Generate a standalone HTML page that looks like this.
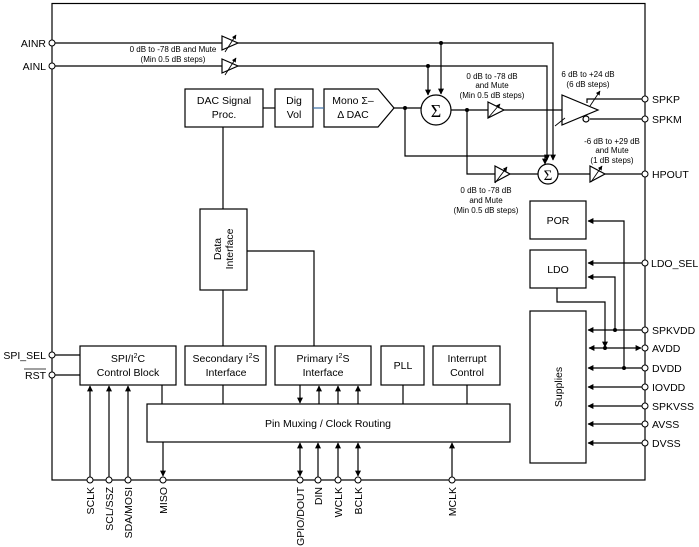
<!DOCTYPE html>
<html><head><meta charset="utf-8"><style>
html,body{margin:0;padding:0;background:#fff;}
svg{display:block;font-family:"Liberation Sans",Arial,sans-serif;}
</style></head><body>
<svg width="699" height="547" viewBox="0 0 699 547" xmlns="http://www.w3.org/2000/svg">
<defs>
<marker id="a" viewBox="0 0 10 10" refX="9" refY="5" markerWidth="5" markerHeight="5" orient="auto-start-reverse"><path d="M0,0L10,5L0,10z" fill="#000"/></marker>
</defs>
<g fill="none" stroke="#000" stroke-width="1.2">
<rect x="52" y="3.5" width="593" height="476.5"/>
<path d="M55 43H222"/><path d="M238 43H553V160" marker-end="url(#a)"/>
<path d="M55 66H222"/><path d="M238 66H547V160" marker-end="url(#a)"/>
<path d="M222 36L238 43L222 50Z"/><path d="M222 59L238 66L222 73Z"/>
<path d="M225 52L236 35" marker-end="url(#a)" stroke-width="0.9"/>
<path d="M225 75L236 58" marker-end="url(#a)" stroke-width="0.9"/>
<rect x="185" y="89" width="78" height="38"/>
<rect x="275" y="89" width="38" height="38"/>
<path d="M324 89H378L394 108L378 127H324Z"/>
<path d="M263 108H275"/>
<path d="M313 108H324" stroke="#3a6ea5"/>
<path d="M394 108H421"/>
<circle cx="436" cy="110" r="15"/>
<path d="M441 43V94" marker-end="url(#a)"/>
<path d="M428 66V95" marker-end="url(#a)"/>
<path d="M451 110H488M504 110H562"/>
<path d="M488 102L504 110L488 118Z"/>
<path d="M405 108V156H545V164" marker-end="url(#a)"/>
<path d="M467 110V174H495M510 174H538"/>
<path d="M495 166L510 174L495 182Z"/>
<circle cx="548" cy="174" r="10"/>
<path d="M558 174H590M605 174H642"/>
<path d="M590 166L605 174L590 182Z"/>
<path d="M562 95V125L598 110Z"/>
<path d="M587 103V99H642M590 119H642"/>
<circle cx="586" cy="119" r="3"/>
<path d="M590 106L600 91" marker-end="url(#a)" stroke-width="0.9"/>
<path d="M488 118L500 104" marker-end="url(#a)" stroke-width="0.9"/>
<path d="M495 183L507 167" marker-end="url(#a)" stroke-width="0.9"/>
<path d="M591 182L602 166" marker-end="url(#a)" stroke-width="0.9"/>
<path d="M555 126L565 118" stroke-width="0.9"/>
<rect x="200" y="209" width="47" height="81"/>
<path d="M223 127V209M223 290V346M247 251H314V346"/>
<rect x="80" y="346" width="96" height="39"/>
<rect x="185" y="346" width="81" height="39"/>
<rect x="275" y="346" width="96" height="39"/>
<rect x="381" y="346" width="43" height="39"/>
<rect x="433" y="346" width="67" height="39"/>
<rect x="147" y="404" width="363" height="38"/>
<path d="M55 355H80M55 375H80"/>
<path d="M162 385V404M223 385V404M403 385V404M467 385V404"/>
<path d="M300 385V403" marker-end="url(#a)"/>
<path d="M319 404V386" marker-end="url(#a)"/>
<path d="M338 404V386" marker-end="url(#a)"/>
<path d="M358 404V386" marker-end="url(#a)"/>
<path d="M90 477V386" marker-end="url(#a)"/>
<path d="M109 477V386" marker-end="url(#a)"/>
<path d="M128 477V386" marker-end="url(#a)"/>
<path d="M163 442V476" marker-end="url(#a)"/>
<path d="M300 476V443" marker-start="url(#a)" marker-end="url(#a)"/>
<path d="M358 476V443" marker-start="url(#a)" marker-end="url(#a)"/>
<path d="M318 477V443" marker-end="url(#a)"/>
<path d="M338 477V443" marker-end="url(#a)"/>
<path d="M452 477V443" marker-end="url(#a)"/>
<rect x="530" y="201" width="56" height="38"/>
<rect x="530" y="250" width="56" height="38"/>
<rect x="530" y="311" width="56" height="152"/>
<path d="M624 368V221H588" marker-end="url(#a)"/>
<path d="M642 263H588" marker-end="url(#a)"/>
<path d="M615 330V277H588" marker-end="url(#a)"/>
<path d="M557 288V302H605V347" marker-end="url(#a)"/>
<path d="M642 330H588" marker-end="url(#a)"/>
<path d="M642 368H588" marker-end="url(#a)"/>
<path d="M642 387H588" marker-end="url(#a)"/>
<path d="M642 406H588" marker-end="url(#a)"/>
<path d="M642 424H588" marker-end="url(#a)"/>
<path d="M642 443H588" marker-end="url(#a)"/>
<path d="M589 348H641" marker-start="url(#a)" marker-end="url(#a)"/>
</g>
<g fill="#000">
<circle cx="441" cy="43" r="2"/><circle cx="428" cy="66" r="2"/><circle cx="405" cy="108" r="2"/><circle cx="467" cy="110" r="2"/>
<circle cx="615" cy="330" r="2"/><circle cx="605" cy="348" r="2"/><circle cx="624" cy="368" r="2"/>
</g>
<g fill="#fff" stroke="#000" stroke-width="1">
<circle cx="52" cy="43" r="3"/><circle cx="52" cy="66" r="3"/><circle cx="52" cy="355" r="3"/><circle cx="52" cy="375" r="3"/>
<circle cx="645" cy="99" r="3"/><circle cx="645" cy="119" r="3"/><circle cx="645" cy="174" r="3"/><circle cx="645" cy="263" r="3"/>
<circle cx="645" cy="330" r="3"/><circle cx="645" cy="348" r="3"/><circle cx="645" cy="368" r="3"/><circle cx="645" cy="387" r="3"/>
<circle cx="645" cy="406" r="3"/><circle cx="645" cy="424" r="3"/><circle cx="645" cy="443" r="3"/>
<circle cx="90" cy="480" r="3"/><circle cx="109" cy="480" r="3"/><circle cx="128" cy="480" r="3"/><circle cx="163" cy="480" r="3"/>
<circle cx="300" cy="480" r="3"/><circle cx="318" cy="480" r="3"/><circle cx="338" cy="480" r="3"/><circle cx="358" cy="480" r="3"/><circle cx="452" cy="480" r="3"/>
</g>
<g font-size="10.5" fill="#000" text-anchor="middle">
<text x="224" y="104">DAC Signal</text><text x="224" y="118">Proc.</text>
<text x="294" y="104">Dig</text><text x="294" y="118">Vol</text>
<text x="353" y="104">Mono Σ–</text><text x="353" y="118">Δ DAC</text>
<text x="128" y="362">SPI/I<tspan font-size="7" dy="-4">2</tspan><tspan dy="4">C</tspan></text><text x="128" y="376">Control Block</text>
<text x="226" y="362">Secondary I<tspan font-size="7" dy="-4">2</tspan><tspan dy="4">S</tspan></text><text x="226" y="376">Interface</text>
<text x="323" y="362">Primary I<tspan font-size="7" dy="-4">2</tspan><tspan dy="4">S</tspan></text><text x="323" y="376">Interface</text>
<text x="403" y="369">PLL</text>
<text x="467" y="362">Interrupt</text><text x="467" y="376">Control</text>
<text x="328" y="427">Pin Muxing / Clock Routing</text>
<text x="558" y="224">POR</text><text x="558" y="273">LDO</text>
<text transform="translate(562,387) rotate(-90)">Supplies</text>
<text transform="translate(221,249) rotate(-90)">Data</text>
<text transform="translate(233,249) rotate(-90)">Interface</text>
<text x="436" y="117" font-size="18" font-family="Liberation Serif,serif">Σ</text>
<text x="548" y="180" font-size="15" font-family="Liberation Serif,serif">Σ</text>
</g>
<g font-size="8" fill="#000" text-anchor="middle">
<text x="173" y="52">0 dB to -78 dB and Mute</text><text x="173" y="62">(Min 0.5 dB steps)</text>
<text x="492" y="79">0 dB to -78 dB</text><text x="492" y="88">and Mute</text><text x="492" y="98">(Min 0.5 dB steps)</text>
<text x="588" y="77">6 dB to +24 dB</text><text x="588" y="87">(6 dB steps)</text>
<text x="612" y="144">-6 dB to +29 dB</text><text x="612" y="153">and Mute</text><text x="612" y="163">(1 dB steps)</text>
<text x="486" y="193">0 dB to -78 dB</text><text x="486" y="203">and Mute</text><text x="486" y="213">(Min 0.5 dB steps)</text>
</g>
<g font-size="10.5" fill="#000">
<text x="46" y="47" text-anchor="end">AINR</text><text x="46" y="70" text-anchor="end">AINL</text>
<text x="46" y="359" text-anchor="end">SPI_SEL</text><text x="46" y="379" text-anchor="end">RST</text>
<path d="M24 369H46" stroke="#000" stroke-width="0.8"/>
<text x="652" y="103">SPKP</text><text x="652" y="123">SPKM</text><text x="652" y="178">HPOUT</text><text x="651" y="267">LDO_SEL</text>
<text x="652" y="334">SPKVDD</text><text x="652" y="352">AVDD</text><text x="652" y="372">DVDD</text><text x="652" y="391">IOVDD</text>
<text x="652" y="410">SPKVSS</text><text x="652" y="428">AVSS</text><text x="652" y="447">DVSS</text>
</g>
<g font-size="10.5" fill="#000" text-anchor="end">
<text transform="translate(94,487) rotate(-90)">SCLK</text>
<text transform="translate(113,487) rotate(-90)">SCL/SSZ</text>
<text transform="translate(132,487) rotate(-90)">SDA/MOSI</text>
<text transform="translate(167,487) rotate(-90)">MISO</text>
<text transform="translate(304,487) rotate(-90)">GPIO/DOUT</text>
<text transform="translate(322,487) rotate(-90)">DIN</text>
<text transform="translate(342,487) rotate(-90)">WCLK</text>
<text transform="translate(362,487) rotate(-90)">BCLK</text>
<text transform="translate(456,487) rotate(-90)">MCLK</text>
</g>
</svg>
</body></html>
